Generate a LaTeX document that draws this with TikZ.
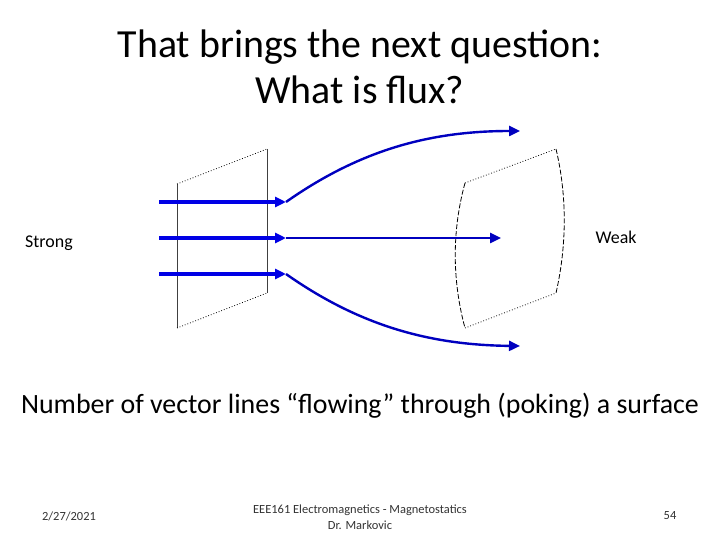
\documentclass[tikz,border=0pt]{standalone}
\usepackage{fontspec}
\setmainfont{Carlito}
\usetikzlibrary{arrows.meta}
\begin{document}
\begin{tikzpicture}[x=1bp,y=-1bp,
  fl/.style={draw=blue!90!black,line width=3.2bp,-{Triangle[length=11bp,width=10bp]}},
  fc/.style={draw=blue!75!black,line width=2.4bp,-{Triangle[length=11bp,width=10bp]}},
  edge/.style={black!75,line width=0.8bp},
  dots/.style={black,line width=0.8bp,dotted},
  dsh/.style={black,line width=0.8bp,dash pattern=on 5bp off 2bp},
  foot/.style={gray!40!black,font=\fontsize{12.5}{15.5}\selectfont,align=center}]
\useasboundingbox (0,0) rectangle (720,540);
\node[font=\fontsize{40}{46}\selectfont,align=center] (t) at (360,67) {That brings the next question:\\What is flux?};
% left plane
\coordinate (a1) at (177,184); \coordinate (a2) at (267,149);
\coordinate (a3) at (267,293); \coordinate (a4) at (177,328);
\draw[edge] (a1)--(a4); \draw[edge] (a2)--(a3);
\draw[dots] (a1)--(a2); \draw[dots] (a4)--(a3);
% right plane
\coordinate (b1) at (465,183); \coordinate (b2) at (556,149);
\coordinate (b3) at (556,293); \coordinate (b4) at (465,328);
\draw[dsh] (b1) .. controls (452,230) and (452,280) .. (b4);
\draw[dsh] (b2) .. controls (567,195) and (567,245) .. (b3);
\draw[dots] (b1)--(b2); \draw[dots] (b4)--(b3);
% arrows
\coordinate (s1) at (159,202); \coordinate (e1) at (286,202);
\coordinate (s2) at (159,238); \coordinate (e2) at (286,238);
\coordinate (s3) at (159,274); \coordinate (e3) at (286,274);
\coordinate (f1) at (520,131); \coordinate (f2) at (501,238); \coordinate (f3) at (520,346);
\draw[fl] (s1)--(e1); \draw[fl] (s2)--(e2); \draw[fl] (s3)--(e3);
\draw[fc] (e1) .. controls (360,150) and (430,131) .. (f1);
\draw[fc] (e2) -- (f2);
\draw[fc] (e3) .. controls (360,326) and (430,345) .. (f3);
\node (st) at (49,243) {\fontsize{18}{22}\selectfont Strong};
\node (wk) at (616,237) {\fontsize{18}{22}\selectfont Weak};
\node (nb) at (360,406) {\fontsize{28}{34}\selectfont Number of vector lines “flowing” through (poking) a surface};
\node[foot] (d) at (69,516) {2/27/2021};
\node[foot] (c) at (360,517) {EEE161 Electromagnetics - Magnetostatics\\Dr. Markovic};
\node[foot] (p) at (670,516) {54};
\end{tikzpicture}
\end{document}
